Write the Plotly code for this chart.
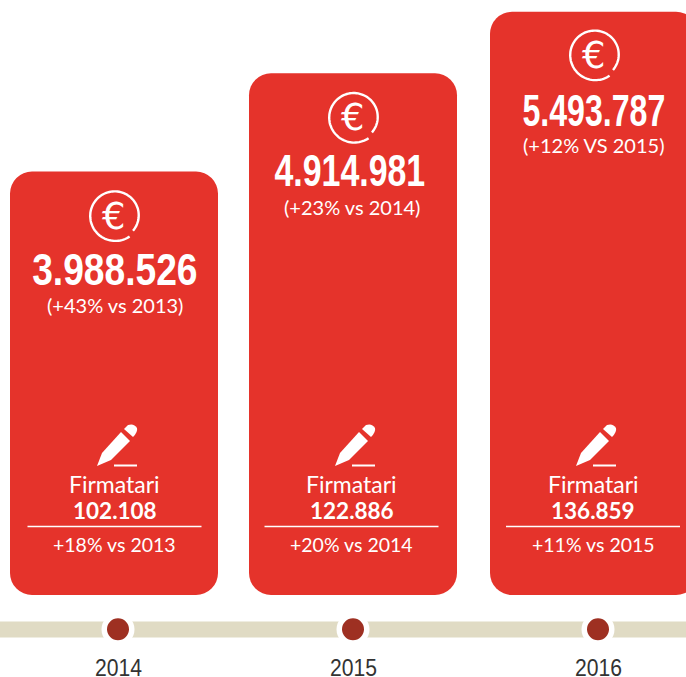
import numpy as np
import plotly.graph_objects as go

years = ["2014", "2015", "2016"]
importi = [3988526, 4914981, 5493787]
importi_label = ["3.988.526", "4.914.981", "5.493.787"]
importi_delta = ["(+43% vs 2013)", "(+23% vs 2014)", "(+12% VS 2015)"]
firmatari = ["102.108", "122.886", "136.859"]
firmatari_delta = ["+18% vs 2013", "+20% vs 2014", "+11% vs 2015"]

# layout constants, in pixels of the 686x677 page
W, H = 686, 677
BASE_PX = 595
PX_PER_UNIT = 1.0615e-4
BAR_CX = [114, 353, 594]
TXT_CX = [114.5, 351.5, 593]
NUM_CX = [114.5, 350, 594]
BAR_W = 208
DOT_CX = [118, 353, 598]
PEN_CX = [117, 355, 596]
NUM_SQUEEZE = [0.845, 0.77, 0.73]
RED, DOT, BAND = "#e5332b", "#9e3022", "#e0dbc4"
SANS = "Liberation Sans"
HUMAN = "Lato"

fig = go.Figure()
fig.add_bar(x=BAR_CX, y=[v - 1 for v in importi], base=[1] * 3, width=BAR_W,
            marker=dict(color=RED, line_width=0), hoverinfo="skip")

shapes = [dict(type="rect", xref="x", yref="y2", x0=0, x1=W, y0=621.5, y1=637.5,
               fillcolor=BAND, line_width=0, layer="below")]
annots = []


def txt(x, y, s, size, color="white", font=HUMAN, bold=False):
    annots.append(dict(x=x, y=y, xref="x", yref="y2", text=f"<b>{s}</b>" if bold else s, showarrow=False,
                       xanchor="center", yanchor="middle",
                       font=dict(size=size, color=color, family=font)))


def euro(cx, cy):
    t = np.radians(np.linspace(55, 400, 90))
    r = 24 - 2.0 * (t - t[0]) / (t[-1] - t[0]) + 1.5
    pts = [f"{cx + a * np.cos(b):.1f},{cy + a * np.sin(b):.1f}" for a, b in zip(r, t)]
    shapes.append(dict(type="path", xref="x", yref="y2", path="M" + " L".join(pts),
                       line=dict(color="white", width=2.4)))
    txt(cx - 1, cy + 0.5, "€", 37, font="DejaVu Sans")


def pencil(cx, y0=466):
    def P(dx, dy):
        return f"{cx + dx:.1f},{y0 + dy:.1f}"
    body = f"M{P(-20, 0)} L{P(-15, -13)} L{P(4, -34)} L{P(13, -25)} L{P(-6, -6)} Z"
    top = f"M{P(7, -37)} L{P(11, -41)} Q{P(17, -43)} {P(20, -38)} Q{P(21, -34)} {P(16, -29)} Z"
    for p in (body, top):
        shapes.append(dict(type="path", xref="x", yref="y2", path=p, fillcolor="white", line_width=0))
    shapes.append(dict(type="line", xref="x", yref="y2", x0=cx - 3, x1=cx + 20, y0=y0 - 0.5, y1=y0 - 0.5,
                       line=dict(color="white", width=2)))


for i, v in enumerate(importi):
    cx, tx = BAR_CX[i], TXT_CX[i]
    top = BASE_PX - v * PX_PER_UNIT
    euro(cx + 1, top + (43 if i == 2 else 44))
    txt(NUM_CX[i], top + (99 if i == 2 else 97.5), importi_label[i], 44, font=SANS, bold=True)
    txt(tx + (1 if i == 2 else 0), top + 133.5, importi_delta[i], 20)
    pencil(PEN_CX[i])
    txt(tx, 483.5, "Firmatari", 23)
    txt(tx, 510.5, firmatari[i], 22.5, bold=True)
    shapes.append(dict(type="line", xref="x", yref="y2", x0=tx - 87, x1=tx + 87, y0=526.5, y1=526.5,
                       line=dict(color="white", width=1.3)))
    txt(tx, 544, firmatari_delta[i], 19.5)
    txt(DOT_CX[i], 667.5, years[i], 23, color="#333333", font=SANS)

fig.add_trace(go.Scatter(x=DOT_CX, y=[629.3] * 3, yaxis="y2", mode="markers", hoverinfo="skip",
                         marker=dict(size=27.5, color=DOT, line=dict(color="white", width=5.5))))

fig.update_layout(
    width=W, height=H, margin=dict(l=0, r=0, t=0, b=0), barmode="overlay", barcornerradius=22,
    showlegend=False, paper_bgcolor="white", plot_bgcolor="white",
    xaxis=dict(range=[0, W], visible=False, fixedrange=True),
    yaxis=dict(range=[-(H - BASE_PX) / PX_PER_UNIT, BASE_PX / PX_PER_UNIT], visible=False, fixedrange=True),
    yaxis2=dict(range=[H, 0], overlaying="y", visible=False, fixedrange=True),
    shapes=shapes, annotations=annots,
)

# the headline numbers and years use a condensed face: squeeze the real text horizontally
squeeze = {**{s: k for s, k in zip(importi_label, NUM_SQUEEZE)}, **{y: 0.92 for y in years}}
post = """
document.body.style.margin='0';document.body.style.overflow='hidden';
var SQ = %s;
function squeeze(){
  document.querySelectorAll('.annotation-text').forEach(function(t){
    var k = SQ[t.textContent];
    if(!k) return;
    var b = t.getBBox(), c = b.x + b.width/2;
    t.setAttribute('transform','translate('+c+' 0) scale('+k+' 1) translate('+(-c)+' 0)');
  });
}
squeeze(); setTimeout(squeeze, 30);
""" % (str(squeeze).replace("'", '"'))
fig.write_html("out.html", config=dict(displayModeBar=False), post_script=post)
